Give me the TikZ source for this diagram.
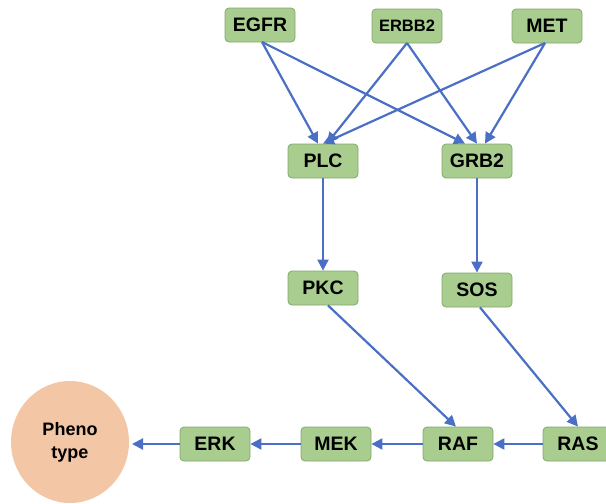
\documentclass[tikz,border=0pt]{standalone}
\usepackage{fontspec}
\setmainfont{Liberation Sans}
\usetikzlibrary{arrows.meta,shapes.geometric}
\definecolor{boxfill}{HTML}{A9CD8F}
\definecolor{boxline}{HTML}{82A86C}
\definecolor{arrowblue}{HTML}{4A6FC4}
\definecolor{pheno}{HTML}{F3C6A5}
\begin{document}
\begin{tikzpicture}[x=1pt,y=-1pt,
  gbox/.style={draw=boxline, line width=0.8pt, fill=boxfill, rounded corners=4pt,
    minimum width=70pt, minimum height=34pt, inner sep=0pt,
    font=\fontsize{19.5}{21}\selectfont\bfseries},
  conn/.style={draw=arrowblue, line width=2.2pt, -{Triangle[length=11pt,width=11pt]}}]
\useasboundingbox (0,0) rectangle (606,504);
\clip (0,0) rectangle (606,504);
\node[gbox] (egfr) at (260,25) {EGFR};
\node[gbox, font=\fontsize{16.5}{18}\selectfont\bfseries] (erbb2) at (407,26) {ERBB2};
\node[gbox] (met) at (547,26) {MET};
\node[gbox] (plc) at (323,161) {PLC};
\node[gbox] (grb2) at (477,161) {GRB2};
\node[gbox] (pkc) at (323,288) {PKC};
\node[gbox] (sos) at (477,290) {SOS};
\node[gbox] (raf) at (458,444) {RAF};
\node[gbox] (ras) at (578,444) {RAS};
\node[gbox] (mek) at (336,444) {MEK};
\node[gbox] (erk) at (215,444) {ERK};
\node[draw=none, fill=pheno, ellipse, minimum width=118pt, minimum height=122pt, inner sep=0pt, align=center,
  font=\fontsize{18}{23}\selectfont\bfseries] (ph) at (70,442) {Pheno\\type};
\coordinate (egfrS) at (262,42);
\coordinate (erbbS) at (407,43);
\coordinate (metS) at (545,43);
\coordinate (phE) at (132,444);
\draw[conn] (egfrS) -- ([xshift=-5pt]plc.north);
\draw[conn] (egfrS) -- ([xshift=-12pt]grb2.north);
\draw[conn] (erbbS) -- ([xshift=4pt]plc.north);
\draw[conn] (erbbS) -- ([xshift=0pt]grb2.north);
\draw[conn] (metS) -- ([xshift=0pt]plc.north);
\draw[conn] (metS) -- ([xshift=8pt]grb2.north);
\draw[conn] (plc.south) -- (pkc.north);
\draw[conn] (grb2.south) -- (sos.north);
\draw[conn] ([xshift=5pt]pkc.south) -- ([xshift=-2pt]raf.north);
\draw[conn] ([xshift=3pt]sos.south) -- ([xshift=0pt]ras.north);
\draw[conn] (ras.west) -- (raf.east);
\draw[conn] (raf.west) -- (mek.east);
\draw[conn] (mek.west) -- (erk.east);
\draw[conn] (erk.west) -- (phE);
\end{tikzpicture}
\end{document}
